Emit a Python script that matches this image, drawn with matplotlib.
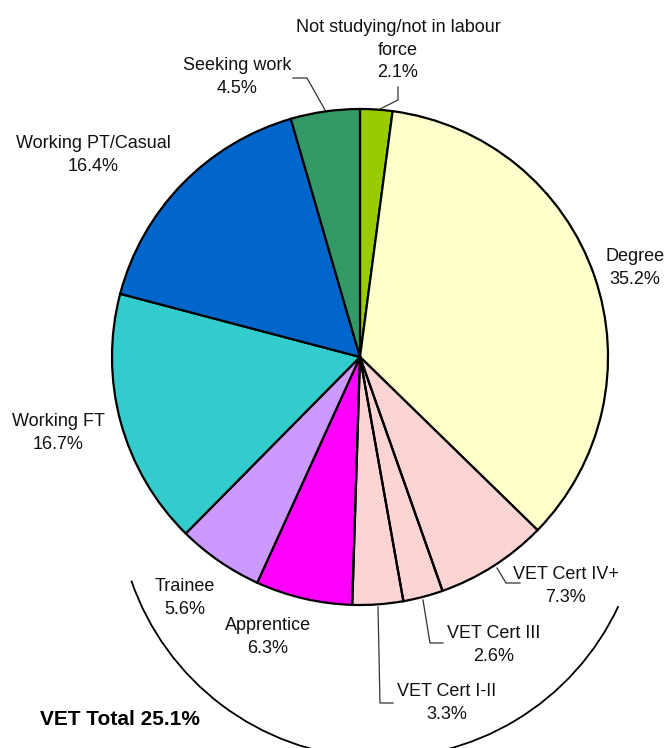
import matplotlib.pyplot as plt
from matplotlib.patches import Arc, Wedge

# data, clockwise from 12 o'clock
labels = ["Not studying/not in labour\nforce", "Degree", "VET Cert IV+", "VET Cert III",
          "VET Cert I-II", "Apprentice", "Trainee", "Working FT",
          "Working PT/Casual", "Seeking work"]
shares = [2.1, 35.2, 7.3, 2.6, 3.3, 6.3, 5.6, 16.7, 16.4, 4.5]
colors = ["#99CC00", "#FFFFCC", "#FFDEDE", "#FFDEDE", "#FFDEDE", "#FF00FF",
          "#CC99FF", "#33CCCC", "#0066CC", "#339966"]
hatched = [False, False, True, True, True, False, False, False, False, False]
vet_total = 25.1

# pie centre and radius in pixels
CX, CY, R = 360, 357, 248
W, H = 665, 748


def px(x, y):
    return (x - CX) / R, (CY - y) / R


plt.rcParams["font.family"] = ["Liberation Sans", "DejaVu Sans"]
plt.rcParams["hatch.linewidth"] = 0.5

fig = plt.figure(figsize=(W / 100, H / 100), dpi=100)
ax = fig.add_axes([0, 0, 1, 1])

wedges, _ = ax.pie(shares, colors=colors, startangle=90, counterclock=False,
                   radius=1, wedgeprops=dict(edgecolor="black", linewidth=1.6))
for w, h in zip(wedges, hatched):
    if h:
        # light pink hatch, then redraw the black outline on top
        w.set_edgecolor("#F3BEBE")
        w.set_linewidth(0)
        w.set_hatch("//////////")
        ax.add_patch(Wedge(w.center, w.r, w.theta1, w.theta2, fill=False,
                           edgecolor="black", linewidth=1.6))

ax.set_xlim(-CX / R, (W - CX) / R)
ax.set_ylim((CY - H) / R, CY / R)
ax.set_aspect("equal")
ax.axis("off")

# label positions (pixel centres)
label_pos = [(398, 50), (635, 268), (566, 586), (494, 645), (447, 703),
             (268, 637), (185, 598), (58, 433), (93, 155), (237, 77)]
for lab, val, (x, y) in zip(labels, shares, label_pos):
    ax.text(*px(x, y), f"{lab}\n{val}%", ha="center", va="center",
            fontsize=13, linespacing=1.45, color="#111111")

# leader lines
leaders = [
    [(398, 87), (398, 100), (380, 109)],
    [(293, 78), (307, 78), (325, 110)],
    [(497, 568), (506, 583), (520, 583)],
    [(423, 600), (430, 643), (443, 643)],
    [(378, 607), (380, 703), (393, 703)],
]
for pts in leaders:
    xs, ys = zip(*[px(x, y) for x, y in pts])
    ax.plot(xs, ys, color="#333333", linewidth=0.9)

# VET bracket arc
ac = px(380, 495)
ax.add_patch(Arc(ac, 2 * 263 / R, 2 * 263 / R, theta1=199, theta2=335,
                 color="black", linewidth=1.3))
ax.text(*px(40, 720), f"VET Total {vet_total}%", ha="left", va="center",
        fontsize=15, fontweight="bold")

fig.savefig("out.png", dpi=100)
